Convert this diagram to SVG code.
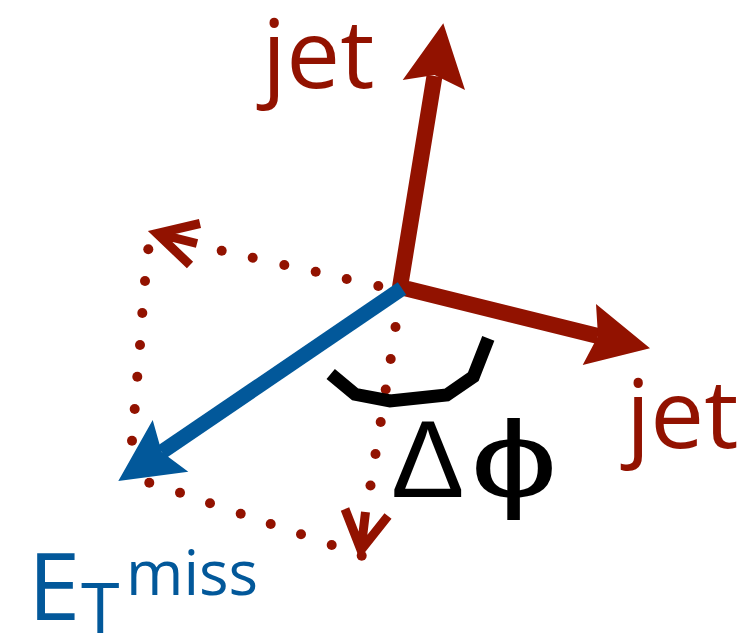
<svg xmlns="http://www.w3.org/2000/svg" width="748" height="636" viewBox="0 0 748 636">
<style>
.red{fill:#921200}
.blue{fill:#02589a}
.shaft-red{fill:none;stroke:#921200;stroke-width:16;stroke-linejoin:bevel}
.shaft-blue{fill:none;stroke:#02589a;stroke-width:15}
.dot{fill:#921200}
.dhead{fill:none;stroke:#921200;stroke-width:9;stroke-linejoin:miter}
.lbl{font-family:"Open Sans","Liberation Sans",sans-serif}
.sym{font-family:"Liberation Sans","DejaVu Sans",sans-serif}
.arc{fill:none;stroke:#000;stroke-width:13;stroke-linejoin:miter}
</style>
<rect width="748" height="636" fill="#fff"/>
<g id="connectors">
  <g id="dotted">
    <circle class="dot" cx="378.3" cy="286" r="5"/>
    <circle class="dot" cx="346.7" cy="279" r="5"/>
    <circle class="dot" cx="315.7" cy="271.7" r="5"/>
    <circle class="dot" cx="284.3" cy="265" r="5"/>
    <circle class="dot" cx="252.7" cy="257.7" r="5"/>
    <circle class="dot" cx="221.7" cy="250.7" r="5"/>
    <circle class="dot" cx="148.3" cy="249.3" r="5"/>
    <circle class="dot" cx="145" cy="281" r="5"/>
    <circle class="dot" cx="142.3" cy="313" r="5"/>
    <circle class="dot" cx="140" cy="345" r="5"/>
    <circle class="dot" cx="137.3" cy="376.7" r="5"/>
    <circle class="dot" cx="134.7" cy="409" r="5"/>
    <circle class="dot" cx="132" cy="440.7" r="5"/>
    <circle class="dot" cx="149.3" cy="482.7" r="5"/>
    <circle class="dot" cx="180" cy="492.7" r="5"/>
    <circle class="dot" cx="210" cy="503.3" r="5"/>
    <circle class="dot" cx="240.7" cy="513.7" r="5"/>
    <circle class="dot" cx="270.7" cy="524" r="5"/>
    <circle class="dot" cx="301" cy="534.3" r="5"/>
    <circle class="dot" cx="331.7" cy="545" r="5"/>
    <circle class="dot" cx="361.7" cy="555.7" r="5"/>
    <circle class="dot" cx="395.5" cy="327" r="5"/>
    <circle class="dot" cx="390.7" cy="359" r="5"/>
    <circle class="dot" cx="385.7" cy="389.5" r="5"/>
    <circle class="dot" cx="380.7" cy="422" r="5"/>
    <circle class="dot" cx="375.5" cy="454" r="5"/>
    <circle class="dot" cx="370.5" cy="485.5" r="5"/>
    <path class="dhead" d="M200,223.5 L157,233.5 L190,265 M157,233.5 L197,243.5"/>
    <path class="dhead" d="M345,509 L361,550 L388,516 M365.5,512 L361,550"/>
  </g>
  <g id="jet-arrows">
    <path class="shaft-red" d="M434.5,76 L400,287 L598,336"/>
    <polygon class="red" points="443.3,23.3 465,90 434.5,75 402.7,80"/>
    <polygon class="red" points="650,348.3 582.7,365 598,336 596,304"/>
  </g>
  <g id="met-arrow">
    <line class="shaft-blue" x1="402" y1="288.5" x2="161.7" y2="452"/>
    <polygon class="blue" points="118.3,481 152.7,420 161.7,452 188.3,471.7"/>
  </g>
</g>
<g id="angle">
  <polyline class="arc" points="330.7,374 355,394.3 390,401 446.7,395 473.3,376.7 488.3,338.3"/>
  <text x="391" y="497" font-size="110" class="sym">Δ<tspan x="470" textLength="88" lengthAdjust="spacingAndGlyphs">ϕ</tspan></text>
</g>
<g id="jet-top">
  <text class="lbl red" x="262" y="88" font-size="96">jet</text>
</g>
<g id="jet-right">
  <text class="lbl red" x="626" y="448" font-size="96">jet</text>
</g>
<g id="met-label">
  <text class="lbl blue" x="28" y="620" font-size="94">E</text>
  <text class="lbl blue" x="81" y="633" font-size="70">T</text>
  <text class="lbl blue" x="126" y="595" font-size="62">miss</text>
</g>
</svg>
